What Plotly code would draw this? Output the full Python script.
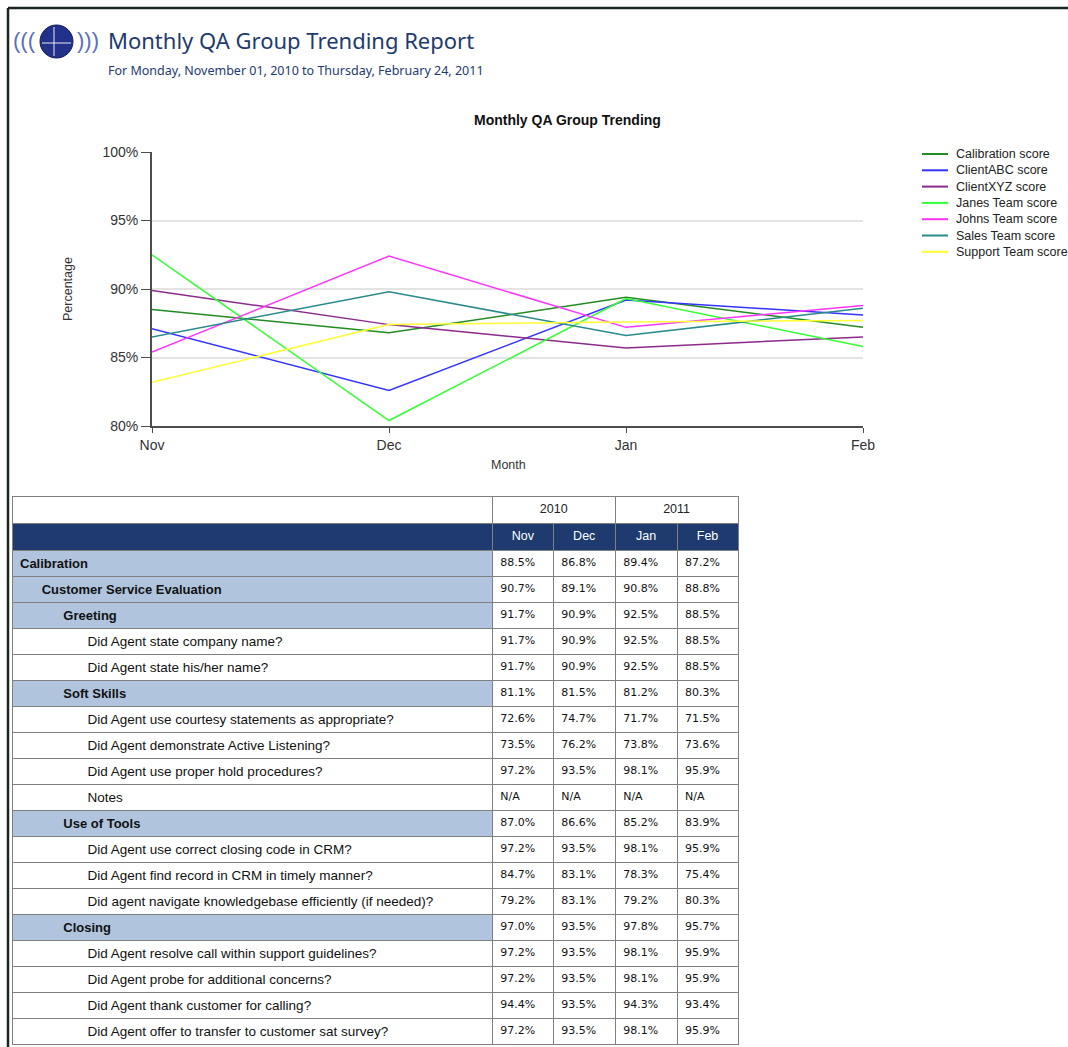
import plotly.graph_objects as go

W, H = 1068, 1047

# chart data
months = ["Nov", "Dec", "Jan", "Feb"]
series_names = ["Calibration score", "ClientABC score", "ClientXYZ score", "Janes Team score",
                "Johns Team score", "Sales Team score", "Support Team score"]
calibration = [88.5, 86.8, 89.4, 87.2]
client_abc = [87.1, 82.6, 89.2, 88.1]
client_xyz = [89.9, 87.4, 85.7, 86.5]
janes_team = [92.5, 80.4, 89.3, 85.8]
johns_team = [85.4, 92.4, 87.2, 88.8]
sales_team = [86.5, 89.8, 86.6, 88.6]
support_team = [83.2, 87.4, 87.6, 87.7]
series_colors = ["#228B22", "#3333FF", "#8B2A8B", "#33FF33", "#FF33FF", "#2A8A8A", "#FFFF33"]

# table data
years = ["2010", "2011"]
row_labels = [
    "Calibration", "Customer Service Evaluation", "Greeting",
    "Did Agent state company name?", "Did Agent state his/her name?",
    "Soft Skills",
    "Did Agent use courtesy statements as appropriate?", "Did Agent demonstrate Active Listening?",
    "Did Agent use proper hold procedures?", "Notes",
    "Use of Tools",
    "Did Agent use correct closing code in CRM?", "Did Agent find record in CRM in timely manner?",
    "Did agent navigate knowledgebase efficiently (if needed)?",
    "Closing",
    "Did Agent resolve call within support guidelines?", "Did Agent probe for additional concerns?",
    "Did Agent thank customer for calling?", "Did Agent offer to transfer to customer sat survey?",
]
row_levels = [0, 1, 2, 3, 3, 2, 3, 3, 3, 3, 2, 3, 3, 3, 2, 3, 3, 3, 3]
nov_vals = [88.5, 90.7, 91.7, 91.7, 91.7, 81.1, 72.6, 73.5, 97.2, None, 87.0, 97.2, 84.7, 79.2, 97.0, 97.2, 97.2, 94.4, 97.2]
dec_vals = [86.8, 89.1, 90.9, 90.9, 90.9, 81.5, 74.7, 76.2, 93.5, None, 86.6, 93.5, 83.1, 83.1, 93.5, 93.5, 93.5, 93.5, 93.5]
jan_vals = [89.4, 90.8, 92.5, 92.5, 92.5, 81.2, 71.7, 73.8, 98.1, None, 85.2, 98.1, 78.3, 79.2, 97.8, 98.1, 98.1, 94.3, 98.1]
feb_vals = [87.2, 88.8, 88.5, 88.5, 88.5, 80.3, 71.5, 73.6, 95.9, None, 83.9, 95.9, 75.4, 80.3, 95.7, 95.9, 95.9, 93.4, 95.9]


def px_x(v):
    return v / W


def px_y(v):
    return 1 - v / H


navy = "#1E3A6E"
clear = "rgba(0,0,0,0)"
fig = go.Figure()

series = [calibration, client_abc, client_xyz, janes_team, johns_team, sales_team, support_team]
for name, vals, color in zip(series_names, series, series_colors):
    fig.add_trace(go.Scatter(x=months, y=vals, mode="lines", name=name,
                             line=dict(color=color, width=1.5)))

# label column: questions go in the main table, group headings (bold) in an overlay
# table, because markup in table cells makes plotly grow the row heights
indent = {0: 0, 1: 6, 2: 12, 3: 18}
plain_labels, bold_labels, label_fill = [], [], []
for lab, lvl in zip(row_labels, row_levels):
    pad = "\u00a0" * indent[lvl]
    if lvl < 3:
        plain_labels.append("")
        bold_labels.append(pad + lab)
        label_fill.append("#B0C4DE")
    else:
        plain_labels.append(pad + lab)
        bold_labels.append("")
        label_fill.append("white")


def fmt(vals):
    return ["N/A" if v is None else f"{v:.1f}%" for v in vals]


n = len(row_labels)
line_col = "#808080"
table_x = [px_x(12), px_x(739)]
table_y = [0, px_y(523)]

# year row above the month header
fig.add_trace(go.Table(
    domain=dict(x=table_x, y=[px_y(523), px_y(496)]),
    columnwidth=[481, 123, 123],
    header=dict(values=[""] + years, height=27, fill_color="white", line_color=line_col,
                font=dict(family="Liberation Sans", size=12.5, color="#222"), align="center"),
    cells=dict(values=[[], [], []]),
))

fig.add_trace(go.Table(
    domain=dict(x=table_x, y=table_y),
    columnwidth=[481, 61, 62, 62, 61],
    header=dict(values=[""] + months, height=27, fill_color=navy, line_color=line_col,
                font=dict(family="Liberation Sans", size=12.5, color="white"), align="center"),
    cells=dict(values=[plain_labels, fmt(nov_vals), fmt(dec_vals), fmt(jan_vals), fmt(feb_vals)],
               height=26, line_color=line_col, align="left",
               fill_color=[label_fill] + [["white"] * n] * 4,
               font=dict(family=["Liberation Sans"] + ["DejaVu Sans"] * 4,
                         size=[13.5, 11, 11, 11, 11], color="#111")),
))

fig.add_trace(go.Table(
    domain=dict(x=[px_x(12), px_x(493)], y=table_y),
    header=dict(values=[""], height=27, fill_color=clear, line_color=clear),
    cells=dict(values=[bold_labels], height=26, line_color=clear, fill_color=clear,
               align="left",
               font=dict(family="Liberation Sans", size=13, color="#111", weight="bold")),
))

fig.update_layout(
    width=W, height=H,
    margin=dict(l=0, r=0, t=0, b=0),
    paper_bgcolor="white", plot_bgcolor="white",
    font=dict(family="Liberation Sans", color="#333"),
    xaxis=dict(domain=[px_x(152), px_x(863)], range=[0, 3], type="category",
               showline=True, linecolor="#4d4d4d", linewidth=2, showgrid=False,
               ticks="outside", ticklen=5, tickcolor="#4d4d4d",
               tickfont=dict(size=14, color="#333"), automargin=False),
    yaxis=dict(domain=[px_y(426), px_y(152)], range=[80, 100], dtick=5, ticksuffix="%",
               showline=True, linecolor="#4d4d4d", linewidth=2,
               gridcolor="#e3e3e3", gridwidth=1.5,
               ticks="outside", ticklen=9, tickcolor="#4d4d4d",
               tickfont=dict(size=14, color="#333"), automargin=False),
    showlegend=False,
)

# legend drawn by hand so the rows sit as close together as in the report
for i, (name, color) in enumerate(zip(series_names, series_colors)):
    ly = px_y(154 + i * 16.3)
    fig.add_shape(type="line", xref="paper", yref="paper", x0=px_x(922), x1=px_x(948),
                  y0=ly, y1=ly, line=dict(color=color, width=2))
    fig.add_annotation(text=name, x=px_x(954), y=ly, xref="paper", yref="paper",
                       xanchor="left", yanchor="middle", showarrow=False,
                       font=dict(family="Liberation Sans", size=12.5, color="#222"))

# titles and axis labels
fig.add_annotation(text="Monthly QA Group Trending Report", x=px_x(106), y=px_y(40),
                   xref="paper", yref="paper", xanchor="left", yanchor="middle", showarrow=False,
                   font=dict(family="Noto Sans", size=22, color=navy))
fig.add_annotation(text="For Monday, November 01, 2010 to Thursday, February 24, 2011",
                   x=px_x(106), y=px_y(71), xref="paper", yref="paper", xanchor="left",
                   yanchor="middle", showarrow=False,
                   font=dict(family="Noto Sans", size=12.5, color=navy))
fig.add_annotation(text="<b>Monthly QA Group Trending</b>", x=px_x(567), y=px_y(120),
                   xref="paper", yref="paper", xanchor="center", yanchor="middle",
                   showarrow=False, font=dict(family="Liberation Sans", size=14, color="#111"))
fig.add_annotation(text="Percentage", x=px_x(68), y=px_y(289), xref="paper", yref="paper",
                   xanchor="center", yanchor="middle", textangle=-90, showarrow=False,
                   font=dict(family="Liberation Sans", size=12.5, color="#333"))
fig.add_annotation(text="Month", x=px_x(508), y=px_y(465), xref="paper", yref="paper",
                   xanchor="center", yanchor="middle", showarrow=False,
                   font=dict(family="Liberation Sans", size=12.5, color="#333"))

# logo
fig.add_shape(type="circle", xref="paper", yref="paper",
              x0=px_x(40), x1=px_x(73), y0=px_y(58), y1=px_y(25),
              fillcolor="#22318A", line=dict(color="#101A55", width=1))
fig.add_shape(type="line", xref="paper", yref="paper",
              x0=px_x(42), x1=px_x(71), y0=px_y(43), y1=px_y(43),
              line=dict(color="rgba(255,255,255,0.6)", width=1.5))
fig.add_shape(type="line", xref="paper", yref="paper",
              x0=px_x(54), x1=px_x(54), y0=px_y(27), y1=px_y(56),
              line=dict(color="rgba(255,255,255,0.6)", width=1.5))
fig.add_annotation(text="(((", x=px_x(38), y=px_y(41), xref="paper", yref="paper",
                   xanchor="right", yanchor="middle", showarrow=False,
                   font=dict(family="Liberation Sans", size=22, color="#5A6FB8"))
fig.add_annotation(text=")))", x=px_x(75), y=px_y(41), xref="paper", yref="paper",
                   xanchor="left", yanchor="middle", showarrow=False,
                   font=dict(family="Liberation Sans", size=22, color="#5A6FB8"))

# report frame
fig.add_shape(type="line", xref="paper", yref="paper", x0=px_x(8), x1=1, y0=px_y(8), y1=px_y(8),
              line=dict(color="#1a2420", width=2.5))
fig.add_shape(type="line", xref="paper", yref="paper", x0=px_x(8), x1=px_x(8), y0=0, y1=px_y(8),
              line=dict(color="#1a2420", width=2.5))

fig.write_html("out.html", config={"displayModeBar": False},
               post_script="document.body.style.margin='0';")
